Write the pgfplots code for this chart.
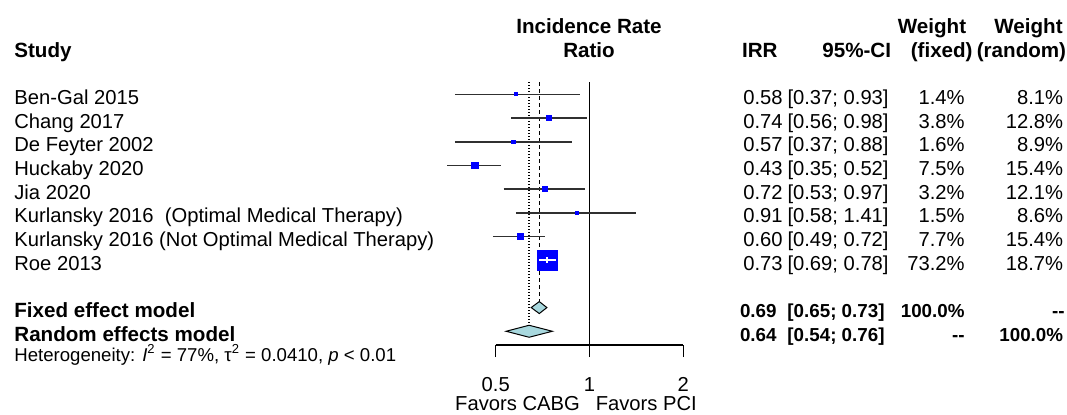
\documentclass[border=0pt]{standalone}
\usepackage{fontspec}
\setmainfont{Liberation Sans}
\usepackage{pgfplots}
\pgfplotsset{compat=1.18}
\definecolor{diam}{HTML}{A8D8DE}
\definecolor{ciln}{HTML}{303030}
\begin{document}
\begin{tikzpicture}[
  txt/.style={font=\fontsize{10.1}{12}\selectfont, inner sep=0pt},
  bld/.style={font=\fontsize{10.3}{12}\selectfont\bfseries, inner sep=0pt},
  bldv/.style={font=\fontsize{9.4}{11}\selectfont\bfseries, inner sep=0pt},
  ci/.style={ciln, line width=0.8pt},
  sq/.style={only marks, mark=square*, mark options={fill=blue, draw=blue, line width=0.5pt}},
  ]
\path[use as bounding box] (0,0) rectangle (533.5pt,-207pt);
\begin{axis}[
  at={(247.85pt,-172.5pt)}, anchor=south west,
  scale only axis, width=93.8pt, height=131.5pt,
  xmode=log, log basis x=2, xmin=0.5, xmax=2,
  ymin=-11.58, ymax=-0.48,
  axis x line*=bottom, axis y line=none,
  xtick={0.5,1,2}, xticklabels={,,}, minor xtick={},
  tick align=outside, major tick length=6pt,
  tick style={black, line width=0.65pt},
  axis line style={black, line width=0.65pt},
  clip=false,
  ]
% reference lines
\addplot[black, line width=0.65pt] coordinates {(1,-0.48) (1,-11.58)};
\addplot[black, line width=0.65pt, dash pattern=on 2pt off 1.5pt] coordinates {(0.69,-0.48) (0.69,-9.747)};
\addplot[black, line width=0.65pt, dash pattern=on 0.6pt off 0.9pt] coordinates {(0.64,-0.48) (0.64,-10.747)};
% studies: square size ~ sqrt(fixed weight)
\addplot[sq, mark size=0.8pt] coordinates {(0.58,-1)};
\addplot[ci] coordinates {(0.37,-1) (0.93,-1)};
\addplot[sq, mark size=1.2pt] coordinates {(0.74,-2)};
\addplot[ci] coordinates {(0.56,-2) (0.98,-2)};
\addplot[sq, mark size=0.85pt] coordinates {(0.57,-3)};
\addplot[ci] coordinates {(0.37,-3) (0.88,-3)};
\addplot[sq, mark size=1.65pt] coordinates {(0.43,-4)};
\addplot[ci] coordinates {(0.35,-4) (0.52,-4)};
\addplot[sq, mark size=1.1pt] coordinates {(0.72,-5)};
\addplot[ci] coordinates {(0.53,-5) (0.97,-5)};
\addplot[sq, mark size=0.82pt] coordinates {(0.91,-6)};
\addplot[ci] coordinates {(0.58,-6) (1.41,-6)};
\addplot[sq, mark size=1.67pt] coordinates {(0.60,-7)};
\addplot[ci] coordinates {(0.49,-7) (0.72,-7)};
% Roe 2013: large square (73.2% weight), CI drawn white inside it
\addplot[fill=blue, draw=blue, line width=0.5pt] coordinates {(0.682,-7.578) (0.79,-7.578) (0.79,-8.422) (0.682,-8.422)} -- cycle;
\addplot[white, line width=0.8pt] coordinates {(0.69,-8) (0.78,-8)};
\addplot[white, line width=0.7pt] coordinates {(0.73,-7.88) (0.73,-8.12)};
% pooled estimates
\addplot[fill=diam, draw=black, line width=0.5pt] coordinates {(0.65,-10) (0.69,-9.747) (0.73,-10) (0.69,-10.253)} -- cycle;
\addplot[fill=diam, draw=black, line width=0.5pt] coordinates {(0.54,-11) (0.64,-10.747) (0.76,-11) (0.64,-11.253)} -- cycle;
\end{axis}
\begin{scope}[x=0.5pt, y=-0.5pt]
% header
\node[bld, anchor=base west] at (14,57) {Study};
\node[bld, anchor=base] at (589,33) {Incidence Rate};
\node[bld, anchor=base] at (589,57) {Ratio};
\node[bld, anchor=base east] at (778,57) {IRR};
\node[bld, anchor=base east] at (891.5,57) {95\%-CI};
\node[bld, anchor=base east] at (966.5,33) {Weight};
\node[bld, anchor=base east] at (973,57) {(fixed)};
\node[bld, anchor=base east] at (1063,33) {Weight};
\node[bld, anchor=base east] at (1066.5,57) {(random)};
% study rows
\foreach \r/\nm/\irr/\ci/\wf/\wr in {
  1/Ben-Gal 2015/0.58/[0.37; 0.93]/1.4\%/8.1\%,
  2/Chang 2017/0.74/[0.56; 0.98]/3.8\%/12.8\%,
  3/De Feyter 2002/0.57/[0.37; 0.88]/1.6\%/8.9\%,
  4/Huckaby 2020/0.43/[0.35; 0.52]/7.5\%/15.4\%,
  5/Jia 2020/0.72/[0.53; 0.97]/3.2\%/12.1\%,
  6/Kurlansky 2016\ \ (Optimal Medical Therapy)/0.91/[0.58; 1.41]/1.5\%/8.6\%,
  7/Kurlansky 2016 (Not Optimal Medical Therapy)/0.60/[0.49; 0.72]/7.7\%/15.4\%,
  8/Roe 2013/0.73/[0.69; 0.78]/73.2\%/18.7\%}{
  \pgfmathsetmacro\b{80.6+23.7*\r}
  \node[txt, anchor=base west] at (14,\b) {\nm};
  \node[txt, anchor=base east] at (783,\b) {\irr};
  \node[txt, anchor=base east] at (889,\b) {\ci};
  \node[txt, anchor=base east] at (965,\b) {\wf};
  \node[txt, anchor=base east] at (1063.5,\b) {\wr};
}
% pooled rows
\node[bld, anchor=base west] at (14,317.6) {Fixed effect model};
\node[bldv, anchor=base east] at (777,317.6) {0.69};
\node[bldv, anchor=base east] at (885,317.6) {[0.65; 0.73]};
\node[bldv, anchor=base east] at (965,317.6) {100.0\%};
\node[bldv, anchor=base east] at (1065,317.6) {-{}-};
\node[bld, anchor=base west] at (14,341.3) {Random effects model};
\node[bldv, anchor=base east] at (777,341.3) {0.64};
\node[bldv, anchor=base east] at (885,341.3) {[0.54; 0.76]};
\node[bldv, anchor=base east] at (965,341.3) {-{}-};
\node[bldv, anchor=base east] at (1063.5,341.3) {100.0\%};
\node[font=\fontsize{9.3}{11}\selectfont, inner sep=0pt, anchor=base west] at (14,361)
  {Heterogeneity: \textit{I}\textsuperscript{2} = 77\%, τ\textsuperscript{2} = 0.0410, \textit{p} < 0.01};
% x axis labels
\node[txt, anchor=base] at (495.7,391) {0.5};
\node[txt, anchor=base] at (589.5,391) {1};
\node[txt, anchor=base] at (683.3,391) {2};
\node[txt, anchor=base] at (517.5,410.5) {Favors CABG};
\node[txt, anchor=base] at (646.3,410.5) {Favors PCI};
\end{scope}
\end{tikzpicture}
\end{document}
